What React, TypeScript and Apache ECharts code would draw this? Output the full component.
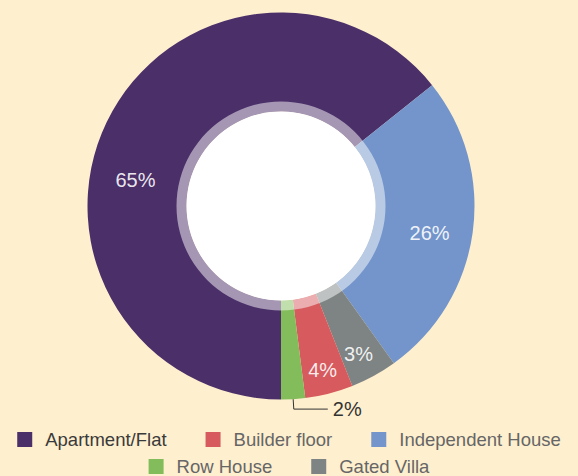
import React, { useEffect, useRef } from "react";
import * as echarts from "echarts";

const categories = ["Apartment/Flat", "Independent House", "Gated Villa", "Builder floor", "Row House"];
const values = [64.2, 25.8, 3.9, 4.0, 2.0];
const percentLabels = ["65%", "26%", "3%", "4%", "2%"];
const colors = ["#4B2F69", "#7395CB", "#7E8484", "#D65A5E", "#83BC5B"];
const legendRow1 = ["Apartment/Flat", "Builder floor", "Independent House"];
const legendRow2 = ["Row House", "Gated Villa"];

export default function App() {
  const ref = useRef<HTMLDivElement>(null);
  useEffect(() => {
    document.body.style.margin = "0";
    const chart = echarts.init(ref.current!, null, { renderer: "svg" });
    const font = "'Liberation Sans', Arial, Helvetica, sans-serif";
    const data = categories.map((name, i) => {
      const item: any = { name, value: values[i], itemStyle: { color: colors[i] } };
      if (name === "Row House") {
        item.label = {
          position: "outside",
          color: "#333",
          fontSize: 20,
        };
        item.labelLine = { show: true, length: 10, length2: 34, lineStyle: { color: "#333", width: 1 } };
      }
      return item;
    });
    const legendText = (name: string) => ({
      name,
      textStyle: { color: name === "Apartment/Flat" ? "#3a3a3a" : "#666" },
    });
    const legendCommon = {
      left: "center",
      orient: "horizontal",
      icon: "rect",
      itemWidth: 15,
      itemHeight: 15,
      itemGap: 39,
      selectedMode: false,
      textStyle: { fontSize: 18.5, fontFamily: font, color: "#666", padding: [0, 0, 0, 8] },
    };
    chart.setOption({
      animation: false,
      backgroundColor: "#FEEFCF",
      legend: [
        { ...legendCommon, top: 425, data: legendRow1.map(legendText) },
        { ...legendCommon, top: 452, data: legendRow2.map(legendText) },
      ],
      series: [
        {
          type: "pie",
          center: [281, 206],
          radius: [94.5, 193.5],
          startAngle: -90,
          clockwise: true,
          avoidLabelOverlap: false,
          label: {
            show: true,
            position: "inside",
            formatter: (p: any) => percentLabels[p.dataIndex],
            color: "rgba(255,255,255,0.9)",
            fontSize: 20,
            fontFamily: font,
          },
          labelLine: { show: false },
          labelLayout: (p: any) => {
            if (p.dataIndex === 0) return { dx: -13, dy: 38 };
            if (p.dataIndex === 1) return { dx: 3, dy: 7 };
            if (p.dataIndex === 2) return { dx: 7, dy: 19 };
            if (p.dataIndex === 3) return { dx: 5, dy: 22 };
            return {};
          },
          data,
        },
        {
          type: "pie",
          center: [281, 206],
          radius: [94.5, 104.5],
          silent: true,
          label: { show: false },
          labelLine: { show: false },
          data: [{ name: "ring", value: 1, itemStyle: { color: "rgba(255,255,255,0.5)" } }],
        },
        {
          type: "pie",
          center: [281, 206],
          radius: [0, 94.5],
          silent: true,
          label: { show: false },
          labelLine: { show: false },
          data: [{ name: "hole", value: 1, itemStyle: { color: "#ffffff" } }],
        },
      ],
    });
    return () => chart.dispose();
  }, []);
  return <div ref={ref} style={{ position: "absolute", left: 0, top: 0, width: 578, height: 476 }} />;
}
